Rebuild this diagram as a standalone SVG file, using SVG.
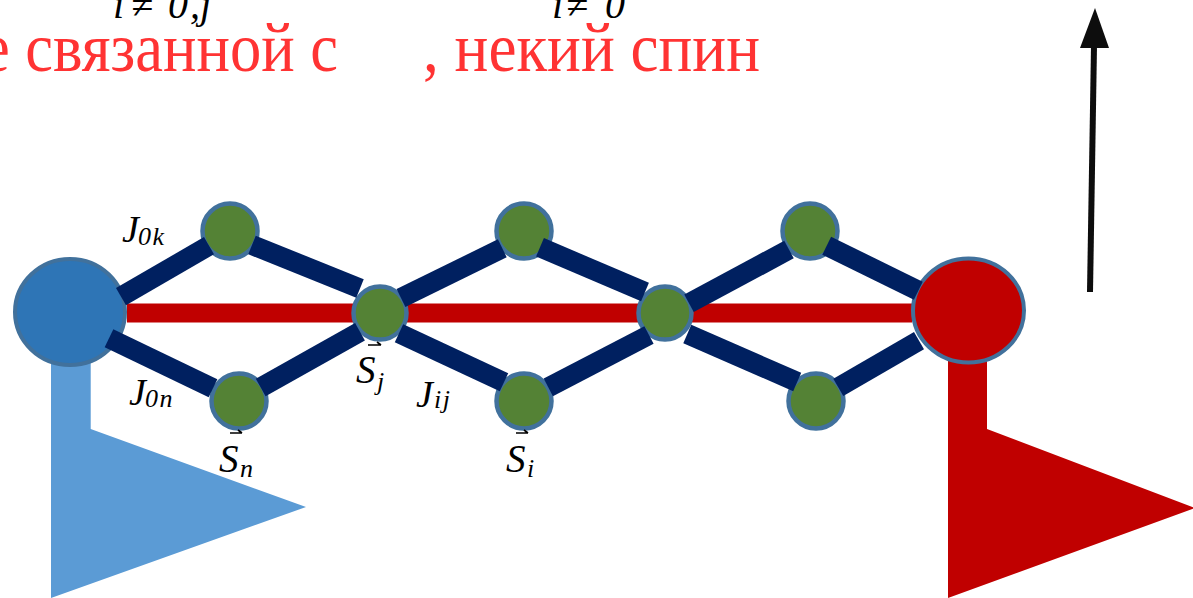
<svg xmlns="http://www.w3.org/2000/svg" width="1193" height="598" viewBox="0 0 1193 598">
<style>
.bond{stroke:#002060;stroke-width:20;stroke-linecap:butt;fill:none}
.chain{stroke:#C00000;stroke-width:19;stroke-linecap:butt}
.spin{fill:#548235;stroke:#41719C;stroke-width:4.5}
.big{stroke:#41719C;stroke-width:4}
.ru{font-family:"Liberation Serif","Times New Roman",serif;font-size:69px;fill:#FF3333}
.m{font-family:"Liberation Serif","Times New Roman",serif;font-style:italic;fill:#000}
.sub{font-size:26px;letter-spacing:1.5px}
.vec{stroke:#000;stroke-width:1.6;fill:none}
</style>
<rect width="1193" height="598" fill="#FFFFFF"/>

<g id="header">
<text class="m" font-size="40" x="113 131 168 190 200" y="18">i≠0,j</text>
<text class="m" font-size="40" x="552 566 605" y="18">i≠0</text>
<text class="ru" x="-18" y="71" textLength="356" lengthAdjust="spacingAndGlyphs">е связанной с</text>
<text class="ru" x="423" y="71" textLength="337" lengthAdjust="spacingAndGlyphs">, некий спин</text>
</g>

<g id="flag-left">
<polygon points="51,340 90.7,340 90.7,429 306,507 51,598" fill="#5B9BD5"/>
</g>
<g id="flag-right">
<polygon points="948,340 987,340 987,429 1195,508 948,598" fill="#C00000"/>
</g>

<g id="connectors-chain">
<line class="chain" x1="127" y1="313" x2="912" y2="313"/>
</g>

<g id="node-left"><ellipse class="big" cx="70" cy="312" rx="55" ry="53" fill="#2E75B6"/></g>
<g id="node-right"><ellipse class="big" cx="968.5" cy="310.5" rx="55.5" ry="52" fill="#C00000"/></g>
<g id="node-a1"><circle class="spin" cx="230" cy="231" r="27.5"/></g>
<g id="node-sn"><circle class="spin" cx="239" cy="401" r="27.5"/></g>
<g id="node-sj"><circle class="spin" cx="380" cy="313" r="26.5"/></g>
<g id="node-a2"><circle class="spin" cx="524" cy="231" r="27.5"/></g>
<g id="node-si"><circle class="spin" cx="524" cy="401" r="27.5"/></g>
<g id="node-m"><circle class="spin" cx="665" cy="313" r="26.5"/></g>
<g id="node-a3"><circle class="spin" cx="810" cy="231" r="27.5"/></g>
<g id="node-a4"><circle class="spin" cx="816" cy="401" r="27.5"/></g>

<g id="connectors">
<line class="bond" x1="121" y1="296.7" x2="209" y2="245.7"/>
<line class="bond" x1="109" y1="338.3" x2="213" y2="388.3"/>
<line class="bond" x1="252" y1="245" x2="360" y2="288.5"/>
<line class="bond" x1="260.7" y1="387.5" x2="360" y2="331.7"/>
<line class="bond" x1="401" y1="298" x2="502.3" y2="248.3"/>
<line class="bond" x1="399" y1="333.3" x2="504" y2="382.3"/>
<line class="bond" x1="540" y1="247.3" x2="645" y2="292"/>
<line class="bond" x1="548.3" y1="387.3" x2="649" y2="335"/>
<line class="bond" x1="689" y1="303.3" x2="789" y2="249.5"/>
<line class="bond" x1="687.3" y1="334" x2="797.2" y2="382"/>
<line class="bond" x1="826.7" y1="245.7" x2="918.3" y2="290.7"/>
<line class="bond" x1="838.3" y1="387.3" x2="919" y2="340.7"/>
</g>

<g id="labels">
<text class="m" font-size="38" x="122" y="242">J</text>
<text class="m sub" x="138" y="245">0k</text>
<text class="m" font-size="38" x="129" y="405">J</text>
<text class="m sub" x="145" y="407">0n</text>
<text class="m" font-size="38" x="416" y="407">J</text>
<text class="m sub" x="434" y="408">ij</text>
<text class="m" font-size="39" x="356" y="383">S</text>
<text class="m sub" x="377" y="390">j</text>
<path class="vec" d="M368,345 H381 M377,342 L381,345"/>
<text class="m" font-size="39" x="219" y="472">S</text>
<text class="m sub" x="240" y="477">n</text>
<path class="vec" d="M230,433 H242 M238,430 L242,433"/>
<text class="m" font-size="39" x="506" y="472">S</text>
<text class="m sub" x="527" y="477">i</text>
<path class="vec" d="M516,433 H528 M524,430 L528,433"/>
</g>

<g id="arrow">
<line x1="1090" y1="292" x2="1094" y2="46" stroke="#0D0D0D" stroke-width="6"/>
<polygon points="1080,48 1109,48 1095,8" fill="#0D0D0D"/>
</g>
</svg>
